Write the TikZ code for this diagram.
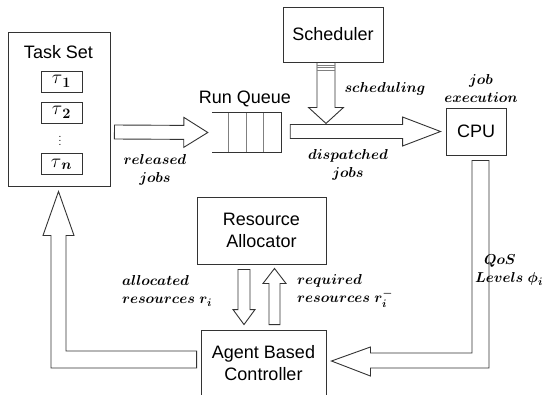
\documentclass[tikz,border=0pt]{standalone}
\usepackage{fontspec}
\setmainfont{Liberation Sans}
\usepackage{bm}
\usetikzlibrary{calc}

% hollow block arrow: tail, tip, shaft half width, head half width, head length
\newcommand{\fatarrow}[5]{%
  \coordinate (head base) at ($(#2)!#5!(#1)$);
  \draw[block] ($(#1)!#3!90:(#2)$) -- ($(head base)!#3!90:(#2)$)
    -- ($(head base)!#4!90:(#2)$) -- (#2)
    -- ($(head base)!#4!-90:(#2)$) -- ($(head base)!#3!-90:(#2)$)
    -- ($(#1)!#3!-90:(#2)$) -- cycle;
}
% task name: large tau with a full size bold index
\newcommand{\taskname}[1]{\scalebox{1.35}{$\tau$}$_{\textstyle\bm{#1}}$}

\begin{document}
\begin{tikzpicture}[
  x=1pt, y=-1pt,
  box/.style={draw=black!80, line width=0.9pt, fill=white, inner sep=0pt,
    align=center, font=\fontsize{18}{22}\selectfont},
  task/.style={box, minimum width=41pt, minimum height=21pt,
    font=\fontsize{15}{18}\selectfont},
  block/.style={draw=black!80, line width=0.9pt, fill=white, line join=miter},
  divider/.style={draw=black!50, line width=0.8pt},
  lbl/.style={inner sep=0pt, font=\fontsize{15.7}{18}\selectfont\boldmath}
]
  \useasboundingbox (0,0) rectangle (546,394);

  % Task set with its tasks
  \node[box, minimum width=102pt, minimum height=154pt] (taskset) at (59,109) {};
  \node[anchor=base, inner sep=0pt, font=\fontsize{18}{22}\selectfont] (tasktitle) at (58.5,58) {Task Set};
  \node[task] (tau1) at (61.5,81.5) {\taskname{1}};
  \node[task] (tau2) at (61.5,112.5) {\taskname{2}};
  \node[inner sep=0pt, font=\fontsize{10}{10}\selectfont] (taudots) at (60,138) {$\vdots$};
  \node[task] (taun) at (61.5,164) {\taskname{n}};

  % Run queue
  \node[minimum width=69pt, minimum height=39pt, inner sep=0pt] (queue) at (246.5,132.5) {};
  \node[anchor=base, inner sep=0pt, font=\fontsize{18}{22}\selectfont] (queuetitle) at (245,103) {Run Queue};
  \foreach \d in {17,35,52}
    \draw[divider] ($(queue.north west)+(\d,0)$) -- ($(queue.south west)+(\d,0)$);
  \draw[draw=black!80, line width=0.9pt] (queue.north west) -- (queue.north east)
    -- (queue.south east) -- (queue.south west);

  % Other components
  \node[box, minimum width=100pt, minimum height=55pt] (sched) at (333,34.5) {Scheduler};
  \node[box, minimum width=60pt, minimum height=47pt] (cpu) at (476,131.5) {CPU};
  \node[box, minimum width=129pt, minimum height=67pt] (alloc) at (261.5,230.5) {Resource\\Allocator};
  \node[box, minimum width=125pt, minimum height=66pt] (agent) at (263.5,363) {Agent Based\\Controller};

  % Straight block arrows
  \coordinate (rel-tail) at ($(taskset.east)+(4,23)$);
  \coordinate (rel-tip) at ($(queue.west)+(-4,0)$);
  \fatarrow{rel-tail}{rel-tip}{7pt}{15pt}{24pt}

  \coordinate (disp-tail) at ($(queue.east)+(9,-1)$);
  \coordinate (disp-tip) at ($(cpu.west)+(-5,0)$);
  \fatarrow{disp-tail}{disp-tip}{7pt}{14.5pt}{38pt}

  \coordinate (sched-tail) at ($(sched.south)+(-7,0)$);
  \coordinate (sched-tip) at ($(sched.south)+(-7,61)$);
  \fatarrow{sched-tail}{sched-tip}{9pt}{17.5pt}{16pt}
  \foreach \yy in {2.5,5,8}
    \draw[divider] ($(sched-tail)+(-9,\yy)$) -- ++(18,0);

  \coordinate (give-tail) at ($(alloc.south)+(-17.5,5)$);
  \coordinate (give-tip) at ($(agent.north)+(-19.5,-5)$);
  \fatarrow{give-tail}{give-tip}{6pt}{11pt}{15pt}

  \coordinate (need-tail) at ($(agent.north)+(11,-5)$);
  \coordinate (need-tip) at ($(alloc.south)+(13,4)$);
  \fatarrow{need-tail}{need-tip}{5.5pt}{11.5pt}{15pt}

  % Bent block arrows
  \coordinate (qos-tail) at ($(cpu.south)+(4.5,5)$);
  \coordinate (qos-tip) at ($(agent.east)+(5,-2)$);
  \draw[block] ($(qos-tail)+(-8.5,0)$) -- ++(17,0) |- ($(qos-tip)+(39,7)$)
    -- ++(0,8) -- (qos-tip) -- ($(qos-tip)+(39,-14)$) -- ++(0,6)
    -| ($(qos-tail)+(-8.5,0)$) -- cycle;

  \coordinate (back-tail) at ($(agent.west)+(-4,-3.5)$);
  \coordinate (back-tip) at ($(taskset.south)+(-0.5,5)$);
  \draw[block] ($(back-tail)+(0,-8.5)$) -- ++(0,17) -| ($(back-tip)+(-7.5,44)$)
    -- ++(-8,0) -- (back-tip) -- ($(back-tip)+(15.5,44)$) -- ++(-8,0)
    |- ($(back-tail)+(0,-8.5)$) -- cycle;

  % Labels
  \node[lbl, align=center] (rel-lbl) at (155,170) {$\bm{released}$\\$\bm{jobs}$};
  \node[lbl, align=center] (disp-lbl) at (348,165) {$\bm{dispatched}$\\$\bm{jobs}$};
  \node[lbl] (sched-lbl) at (385,89) {$\bm{scheduling}$};
  \node[lbl, align=center] (cpu-lbl) at (481,88) {$\bm{job}$\\$\bm{execution}$};
  \node[lbl, align=left] (qos-lbl) at (509,270) {\hspace*{9pt}$\bm{QoS}$\\$\bm{Levels\ \phi_i}$};
  \node[lbl, align=left] (give-lbl) at (167,291) {$\bm{allocated}$\\$\bm{resources\ r_i}$};
  \node[lbl, align=left] (need-lbl) at (345,291) {$\bm{required}$\\$\bm{resources\ r_i^{-}}$};
\end{tikzpicture}
\end{document}
